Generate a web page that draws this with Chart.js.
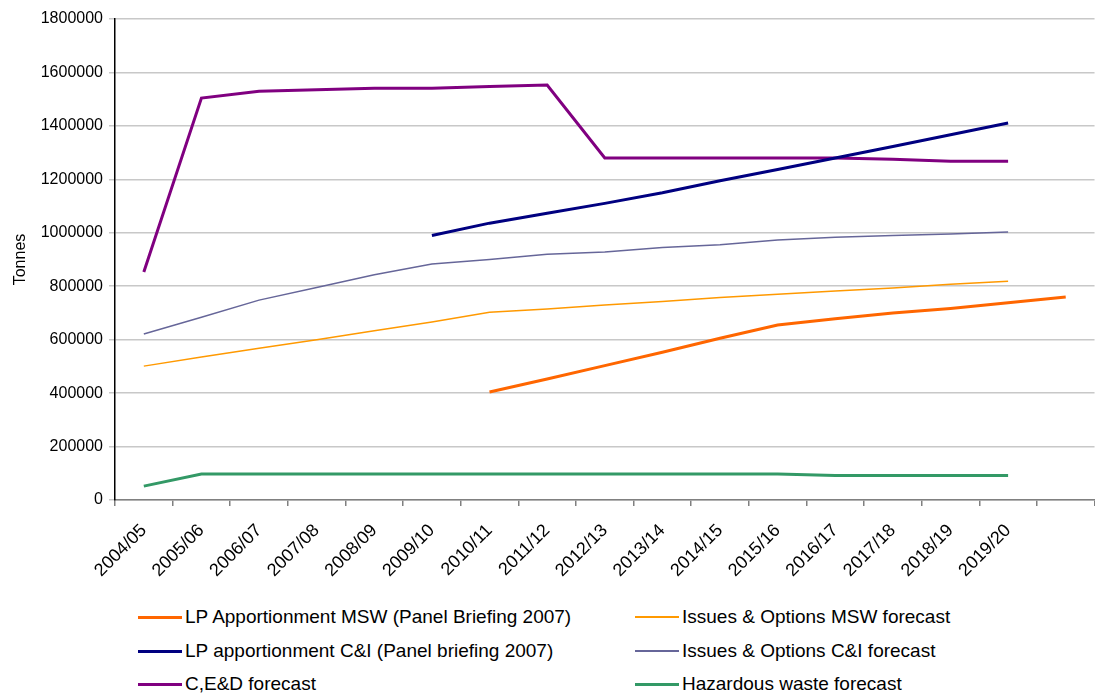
<!DOCTYPE html>
<html>
<head>
<meta charset="utf-8">
<script src="https://cdn.jsdelivr.net/npm/chart.js@4/dist/chart.umd.min.js"></script>
<style>
  html, body { margin: 0; padding: 0; background: #fff; }
  #wrap { position: relative; width: 1095px; height: 693px; overflow: hidden; }
  #cv { position: absolute; left: 0; top: 0; }
  .leg { position: absolute; font-family: "Liberation Sans", Arial, sans-serif; font-size: 19px; color: #000; white-space: nowrap; line-height: 22px; }
  .leg span.ln { position: absolute; left: 0; width: 44px; }
  .leg span.tx { position: absolute; left: 47px; top: 0; }
</style>
</head>
<body>
<div id="wrap">
  <canvas id="cv" width="1095" height="600"></canvas>
  <div id="legend"></div>
</div>
<script>
const categories = ['2004/05','2005/06','2006/07','2007/08','2008/09','2009/10','2010/11','2011/12','2012/13','2013/14','2014/15','2015/16','2016/17','2017/18','2018/19','2019/20',''];
const lpMSW = [null,null,null,null,null,null,404000,453000,503000,553000,605000,655000,678000,700000,717000,738000,760000];
const ioMSW = [501000,535000,568000,600000,633000,666000,703000,715000,730000,743000,758000,770000,782000,793000,807000,819000,null];
const lpCI  = [null,null,null,null,null,990000,1036000,1073000,1110000,1150000,1195000,1237000,1280000,1323000,1367000,1411000,null];
const ioCI  = [621000,684000,748000,795000,843000,883000,900000,920000,928000,945000,955000,973000,983000,990000,995000,1003000,null];
const ced   = [853000,1504000,1530000,1535000,1541000,1541000,1547000,1553000,1280000,1280000,1280000,1280000,1280000,1275000,1268000,1268000,null];
const haz   = [52000,97000,97000,97000,97000,97000,97000,97000,97000,97000,97000,97000,92000,92000,92000,92000,null];
const seriesNames = ['LP Apportionment MSW (Panel Briefing 2007)','Issues & Options MSW forecast','LP apportionment C&I (Panel briefing 2007)','Issues & Options C&I forecast','C,E&D forecast','Hazardous waste forecast'];
const yMin = 0, yMax = 1800000, yStep = 200000;

const colors = ['#ff6600','#ff9900','#000080','#666699','#800080','#339966'];
const widths = [3, 1.5, 3, 1.5, 3, 3];
const seriesData = [lpMSW, ioMSW, lpCI, ioCI, ced, haz];

const fam = '"Liberation Sans Narrow", "Arial Narrow", "Liberation Sans", sans-serif';
const yFont = { family: fam, size: 16 };
const xFont = { family: fam, size: 18 };

const chart = new Chart(document.getElementById('cv'), {
  type: 'line',
  data: {
    labels: categories,
    datasets: seriesNames.map((n, i) => ({
      label: n,
      data: seriesData[i],
      borderColor: colors[i],
      backgroundColor: colors[i],
      borderWidth: widths[i],
      pointRadius: 0,
      pointHoverRadius: 0,
      tension: 0,
      spanGaps: false,
      fill: false
    }))
  },
  options: {
    responsive: false,
    animation: false,
    events: [],
    layout: { padding: { top: 19, right: 0, left: 11, bottom: 0 } },
    plugins: { legend: { display: false }, tooltip: { enabled: false } },
    scales: {
      x: {
        type: 'category',
        offset: true,
        grid: { display: true, drawOnChartArea: false, offset: true, tickLength: 6, color: '#808080', lineWidth: 1.5 },
        border: { color: '#808080', width: 1.5 },
        ticks: { color: '#000', font: xFont, minRotation: 45, maxRotation: 45, autoSkip: false, padding: 14 },
        afterFit: s => { s.height = 100; }
      },
      y: {
        min: yMin, max: yMax,
        grid: { color: '#c8c8c8', lineWidth: 1.5, tickLength: 6, drawTicks: true },
        border: { color: '#000', width: 1.5 },
        ticks: { stepSize: yStep, color: '#000', font: yFont, padding: 6, callback: v => String(v) },
        title: { display: true, text: 'Tonnes', color: '#000', font: yFont, padding: { top: 0, bottom: 4 } },
        afterFit: s => { s.width = 104; }
      }
    }
  }
});

// HTML legend built from the chart's datasets (two columns, three rows)
const legendEl = document.getElementById('legend');
const colX = [138, 635];
const rowY = [617, 651, 684];
chart.data.datasets.forEach((ds, i) => {
  const col = i % 2, row = Math.floor(i / 2);
  const d = document.createElement('div');
  d.className = 'leg';
  d.style.left = colX[col] + 'px';
  d.style.top = (rowY[row] - 11) + 'px';
  const ln = document.createElement('span');
  ln.className = 'ln';
  ln.style.top = (11 - ds.borderWidth / 2) + 'px';
  ln.style.height = ds.borderWidth + 'px';
  ln.style.background = ds.borderColor;
  const tx = document.createElement('span');
  tx.className = 'tx';
  tx.textContent = ds.label;
  d.appendChild(ln); d.appendChild(tx);
  legendEl.appendChild(d);
});
</script>
</body>
</html>
